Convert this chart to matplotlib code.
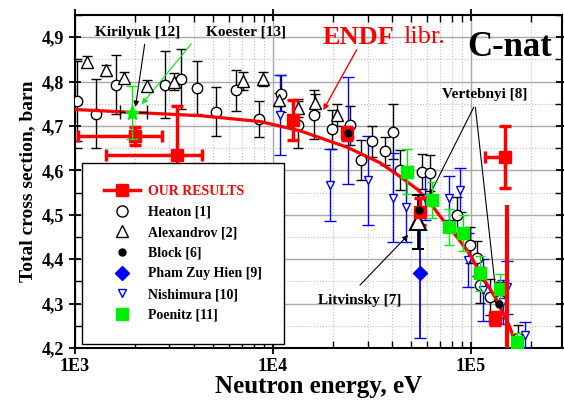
import numpy as np
import matplotlib
matplotlib.use("Agg")
import matplotlib.pyplot as plt
from matplotlib.lines import Line2D
from matplotlib.ticker import FuncFormatter, LogLocator, MultipleLocator, NullFormatter

plt.rcParams["font.family"] = ["Liberation Serif", "DejaVu Serif"]
plt.rcParams["font.weight"] = "bold"

# ENDF evaluation curve
endf_e = [1000, 4300, 8600, 13700, 23700, 34700, 43800, 54000, 64200, 72200,
          84900, 99000, 111000, 135000, 157000, 171000]
endf_s = [4.737, 4.723, 4.710, 4.689, 4.652, 4.617, 4.586, 4.556, 4.518, 4.488,
          4.450, 4.410, 4.369, 4.308, 4.247, 4.200]

# our results
our_e = [2010, 3275, 12620, 23650, 55000, 148500, 132000]
our_s = [4.677, 4.635, 4.714, 4.683, 4.507, 4.630, 4.267]
our_yerr = [0.021, 0.11, 0.045, 0.015, 0.03, 0.069, 0.015]
our_xlo = [975, 1840, 0, 0, 0, 30700, 0]
our_xhi = [740, 1100, 0, 0, 0, 0, 0]
spike_e = [152000]
spike_lo = [4.15]
spike_hi = [4.522]

# Heaton [1]
heaton_e = [1024, 1276, 1611, 2848, 3428, 4131, 5152, 6500, 8490, 10960,
            13370, 16100, 19860, 24500, 27800, 31600, 36800, 40400, 43800, 56500,
            62100, 84900, 98900, 107000, 111000, 124800, 140000, 172500]
heaton_s = [4.757, 4.728, 4.793, 4.793, 4.806, 4.786, 4.732, 4.780, 4.716, 4.773,
            4.703, 4.725, 4.692, 4.701, 4.624, 4.665, 4.643, 4.687, 4.601, 4.597,
            4.594, 4.500, 4.432, 4.402, 4.342, 4.315, 4.308, 4.222]
heaton_err = [0.09, 0.078, 0.066, 0.075, 0.068, 0.06, 0.055, 0.047, 0.04, 0.042,
              0.053, 0.055, 0.045, 0.045, 0.045, 0.035, 0.032, 0.062, 0.045, 0.04,
              0.04, 0.04, 0.04, 0.04, 0.04, 0.04, 0.04, 0.03]

# Alexandrov [2]
alex_e = [1150, 1434, 1769, 2311, 3162, 7060, 8900, 10730, 13370, 16300, 21040]
alex_s = [4.845, 4.825, 4.809, 4.791, 4.800, 4.802, 4.806, 4.759, 4.741, 4.752, 4.725]
alex_err = [0.012, 0.012, 0.012, 0.012, 0.02, 0.02, 0.015, 0.015, 0.02, 0.021, 0.025]

# Block [6]
block_e = [24000, 54500, 139000]
block_s = [4.685, 4.510, 4.300]

# Litvinsky [7]
litv_e = [54000]
litv_s = [4.484]
litv_err = [0.06]

# Pham Zuy Hien [9]
pham_e = [55200]
pham_s = [4.369]
pham_err = [0.147]

# Nishimura [10]
nish_e = [10840, 19400, 23900, 30200, 40400, 47000, 58600, 77400, 87800, 96600,
          115000, 145000, 152000, 187500]
nish_s = [4.725, 4.567, 4.690, 4.578, 4.538, 4.518, 4.538, 4.538, 4.556, 4.398,
          4.330, 4.303, 4.337, 4.229]
nish_err = [0.09, 0.08, 0.12, 0.10, 0.10, 0.08, 0.05, 0.05, 0.05, 0.06,
            0.07, 0.05, 0.06, 0.03]

# Poenitz [11]
poen_e = [47500, 63500, 77400, 91200, 111000, 140000, 170600]
poen_s = [4.597, 4.533, 4.473, 4.459, 4.368, 4.332, 4.213]
poen_err = [0.05, 0.04, 0.04, 0.04, 0.04, 0.035, 0.02]

# Kirilyuk [12], Koester [13]
kir_e = [1941]
kir_s = [4.732]
kir_xlo = [253]
kir_xhi = [370]
koe_e = [1941]
koe_s = [4.730]
koe_err = [0.06]

fig = plt.figure(figsize=(5.64, 4.03), dpi=100)
ax = fig.add_axes([0.133, 0.1365, 0.8635, 0.8265])

ax.plot(endf_e, endf_s, color="red", lw=2.3, zorder=4)

ax.errorbar(heaton_e, heaton_s, yerr=heaton_err, fmt="o", ms=7.5, mfc="white",
            mec="black", mew=1, ecolor="black", elinewidth=1, capsize=3.5, zorder=3)
ax.errorbar(alex_e, alex_s, yerr=alex_err, fmt="^", ms=8, mfc="white",
            mec="black", mew=1, ecolor="black", elinewidth=1, capsize=3.5, zorder=3)
ax.errorbar(nish_e, nish_s, yerr=nish_err, fmt="v", ms=6, mfc="white",
            mec="blue", mew=1, ecolor="blue", elinewidth=1, capsize=4, zorder=3)
ax.errorbar(poen_e, poen_s, yerr=poen_err, xerr=[0.06 * e for e in poen_e], fmt="s",
            ms=8, mfc="#00ee00", mec="#00ee00", ecolor="#00ee00", elinewidth=1,
            capsize=3.5, zorder=4)
ax.errorbar(pham_e, pham_s, yerr=pham_err, fmt="D", ms=7, color="blue",
            ecolor="blue", elinewidth=1.3, capsize=4, zorder=4)
ax.errorbar(litv_e, litv_s, yerr=litv_err, fmt="^", ms=11, mfc="white", mec="black",
            mew=1.5, ecolor="black", elinewidth=2, capsize=4, zorder=5)
ax.plot(block_e, block_s, "o", ms=5, color="black", zorder=6)
ax.errorbar(kir_e, kir_s, xerr=[kir_xlo, kir_xhi], fmt="none", ecolor="black",
            elinewidth=1, capsize=5, zorder=5)
ax.errorbar(koe_e, koe_s, yerr=koe_err, fmt="*", ms=11, color="#00ee00",
            ecolor="#00ee00", elinewidth=1, capsize=4, zorder=6)

ax.vlines(spike_e, spike_lo, spike_hi, color="red", lw=3, zorder=5)
ax.errorbar(our_e, our_s, yerr=our_yerr, xerr=[our_xlo, our_xhi], fmt="s", ms=9,
            color="red", ecolor="red", elinewidth=2.5, capsize=4, capthick=2.5,
            zorder=5)

ax.set_xscale("log")
ax.set_xlim(1000, 2.88e5)
ax.set_ylim(4.2, 4.95)
ax.xaxis.set_major_locator(LogLocator(base=10))
ax.xaxis.set_minor_locator(LogLocator(base=10, subs=np.arange(2, 10)))
ax.xaxis.set_major_formatter(FuncFormatter(lambda v, p: f"1E{int(round(np.log10(v)))}"))
ax.xaxis.set_minor_formatter(NullFormatter())
ax.yaxis.set_major_locator(MultipleLocator(0.1))
ax.yaxis.set_minor_locator(MultipleLocator(0.05))
ax.yaxis.set_major_formatter(FuncFormatter(lambda v, p: f"{v:.1f}".replace(".", ",")))

ax.grid(True, which="major", color="#a8a8a8", lw=1, zorder=0)
ax.grid(True, which="minor", color="#c0c0c0", lw=0.8, ls=":", zorder=0)
ax.set_axisbelow(True)
ax.tick_params(which="major", direction="inout", length=9, width=1.3,
               top=True, right=True, labelsize=13, pad=3)
ax.tick_params(which="minor", direction="in", length=5, width=1, top=True, right=True)
for lab in ax.get_xticklabels() + ax.get_yticklabels():
    lab.set_fontweight("bold")
for sp in ax.spines.values():
    sp.set_linewidth(1.5)

ax.set_xlabel("Neutron energy, eV", fontsize=18, fontweight="bold", labelpad=0)
ax.set_ylabel("Total cross section, barn", fontsize=14, fontweight="bold", labelpad=4)

# annotations
arr = dict(arrowstyle="-|>", color="black", lw=0.8, mutation_scale=8)
ax.text(2080, 4.911, "Kirilyuk [12]", fontsize=11, ha="center", va="center")
ax.annotate("", xy=(2010, 4.737), xytext=(2258, 4.890), arrowprops=arr)
ax.text(7310, 4.911, "Koester [13]", fontsize=11, ha="center", va="center")
ax.annotate("", xy=(2130, 4.744), xytext=(3946, 4.890),
            arrowprops=dict(arr, color="#00ee00"))
ax.text(17890, 4.90, "ENDF", fontsize=19, color="red", ha="left", va="center")
ax.text(45400, 4.90, "libr.", fontsize=19, color="red", fontweight="normal",
        ha="left", va="center")
ax.annotate("", xy=(17660, 4.730), xytext=(26860, 4.877),
            arrowprops=dict(arr, color="red", lw=1))
ax.text(157400, 4.877, "C-nat", fontsize=25, ha="center", va="center")
ax.text(117800, 4.771, "Vertebnyi [8]", fontsize=11, ha="center", va="center")
ax.annotate("", xy=(60700, 4.538), xytext=(104800, 4.748), arrowprops=arr)
ax.annotate("", xy=(135200, 4.303), xytext=(104800, 4.748), arrowprops=arr)
ax.text(27480, 4.308, "Litvinsky [7]", fontsize=11, ha="center", va="center")
ax.annotate("", xy=(49200, 4.459), xytext=(26860, 4.337), arrowprops=arr)

handles = [
    Line2D([], [], color="red", lw=2.5, marker="s", ms=9),
    Line2D([], [], ls="none", marker="o", ms=8, mfc="white", mec="black"),
    Line2D([], [], ls="none", marker="^", ms=8, mfc="white", mec="black"),
    Line2D([], [], ls="none", marker="o", ms=5, color="black"),
    Line2D([], [], ls="none", marker="D", ms=7, color="blue"),
    Line2D([], [], ls="none", marker="v", ms=6, mfc="white", mec="blue"),
    Line2D([], [], ls="none", marker="s", ms=8, color="#00ee00"),
]
labels = ["OUR RESULTS", "Heaton [1]", "Alexandrov [2]", "Block [6]",
          "Pham Zuy Hien [9]", "Nishimura [10]", "Poenitz [11]"]
leg = ax.legend(handles, labels, loc="lower left", bbox_to_anchor=(0.0144, 0.012),
                fontsize=10, frameon=True, fancybox=False, edgecolor="black",
                framealpha=1, borderpad=1.6, labelspacing=0.55, handlelength=2.6,
                handletextpad=0.55, borderaxespad=0)
leg.get_frame().set_linewidth(1)
leg.set_zorder(10)
leg.get_texts()[0].set_color("red")

fig.savefig("out.png", dpi=100)
